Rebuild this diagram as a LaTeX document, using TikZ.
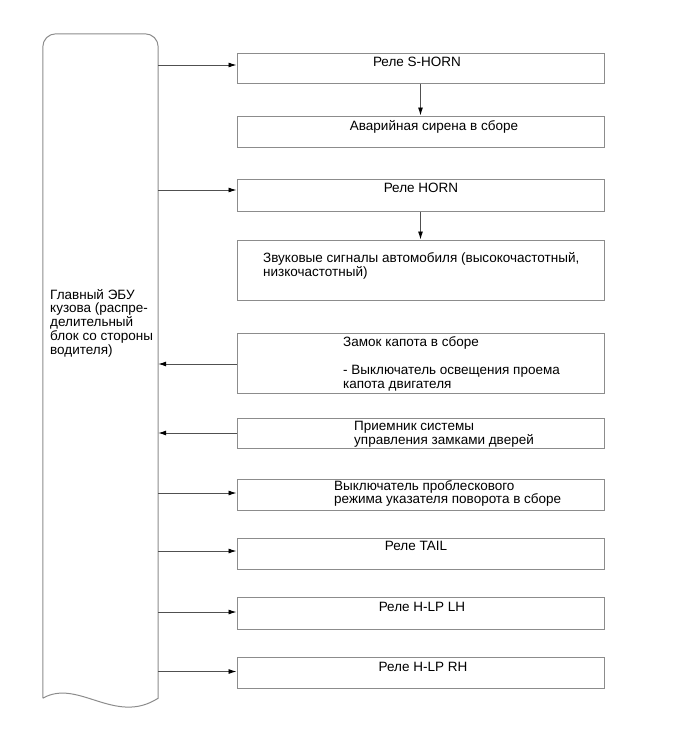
\documentclass[tikz,border=0pt]{standalone}
\usepackage{fontspec}
\setmainfont{Liberation Sans}
\usetikzlibrary{arrows.meta}
\definecolor{boxgray}{RGB}{140,140,140}
\definecolor{linegray}{RGB}{80,80,80}
\begin{document}
\begin{tikzpicture}[x=1pt,y=-1pt,
  box/.style={draw=boxgray, line width=1pt, inner sep=0pt, minimum width=367pt},
  outline/.style={draw=boxgray, line width=1pt},
  txt/.style={inner sep=0pt, font=\fontsize{13.5}{14}\selectfont, anchor=base},
  ltxt/.style={txt, anchor=base west},
  conn/.style={draw=linegray, line width=0.9pt, -{Latex[length=8pt,width=5pt,color=black]}}]
\useasboundingbox (0,0) rectangle (690,756);

% main ECU block
\node[inner sep=0pt, minimum width=115pt, minimum height=664pt] (ecu) at (100.5,366) {};
\draw[outline] (ecu.south west) [rounded corners=13pt] -- (ecu.north west) -- (ecu.north east) [sharp corners] -- (ecu.south east)
  .. controls (115,726) and (78,678) .. (ecu.south west);
\node[ltxt] (e1) at (50,299.3) {Главный ЭБУ};
\node[ltxt] (e2) at (50,312.7) {кузова (распре-};
\node[ltxt] (e3) at (50,326.7) {делительный};
\node[ltxt] (e4) at (50,340.7) {блок со стороны};
\node[ltxt] (e5) at (50,354) {водителя)};

% boxes
\node[box, minimum height=30pt] (b1) at (420.5,68) {};
\node[box, minimum height=31pt] (b2) at (420.5,131.5) {};
\node[box, minimum height=32pt] (b3) at (420.5,195) {};
\node[box, minimum height=60pt] (b4) at (420.5,270) {};
\node[box, minimum height=60pt] (b5) at (420.5,363) {};
\node[box, minimum height=30pt] (b6) at (420.5,433) {};
\node[box, minimum height=31pt] (b7) at (420.5,494.5) {};
\node[box, minimum height=31pt] (b8) at (420.5,553.5) {};
\node[box, minimum height=32pt] (b9) at (420.5,613) {};
\node[box, minimum height=31pt] (b10) at (420.5,672.5) {};

% texts
\node[txt] (t1) at (417,66) {Реле S-HORN};
\node[txt] (t2) at (434,130) {Аварийная сирена в сборе};
\node[txt] (t3) at (421,192.5) {Реле HORN};
\node[ltxt] (t4a) at (263,262) {Звуковые сигналы автомобиля (высокочастотный,};
\node[ltxt] (t4b) at (263,276) {низкочастотный)};
\node[ltxt] (t5a) at (343,346.5) {Замок капота в сборе};
\node[ltxt] (t5b) at (343,374) {- Выключатель освещения проема};
\node[ltxt] (t5c) at (343,388) {капота двигателя};
\node[ltxt] (t6a) at (354,430.5) {Приемник системы};
\node[ltxt] (t6b) at (354,444) {управления замками дверей};
\node[ltxt] (t7a) at (334,490) {Выключатель проблескового};
\node[ltxt] (t7b) at (334,503.5) {режима указателя поворота в сборе};
\node[txt] (t8) at (416,550) {Реле TAIL};
\node[txt] (t9) at (422,611.5) {Реле H-LP LH};
\node[txt] (t10) at (423,671.5) {Реле H-LP RH};

% connectors
\draw[conn] (ecu.east |- 0,65) -- (b1.west |- 0,65);
\draw[conn] (b1) -- (b2);
\draw[conn] (ecu.east |- 0,190) -- (b3.west |- 0,190);
\draw[conn] (b3) -- (b4);
\draw[conn] (b5.west |- 0,364) -- (ecu.east |- 0,364);
\draw[conn] (b6.west |- 0,433) -- (ecu.east |- 0,433);
\draw[conn] (ecu.east |- 0,493) -- (b7.west |- 0,493);
\draw[conn] (ecu.east |- 0,551) -- (b8.west |- 0,551);
\draw[conn] (ecu.east |- 0,612) -- (b9.west |- 0,612);
\draw[conn] (ecu.east |- 0,671.5) -- (b10.west |- 0,671.5);
\end{tikzpicture}
\end{document}
